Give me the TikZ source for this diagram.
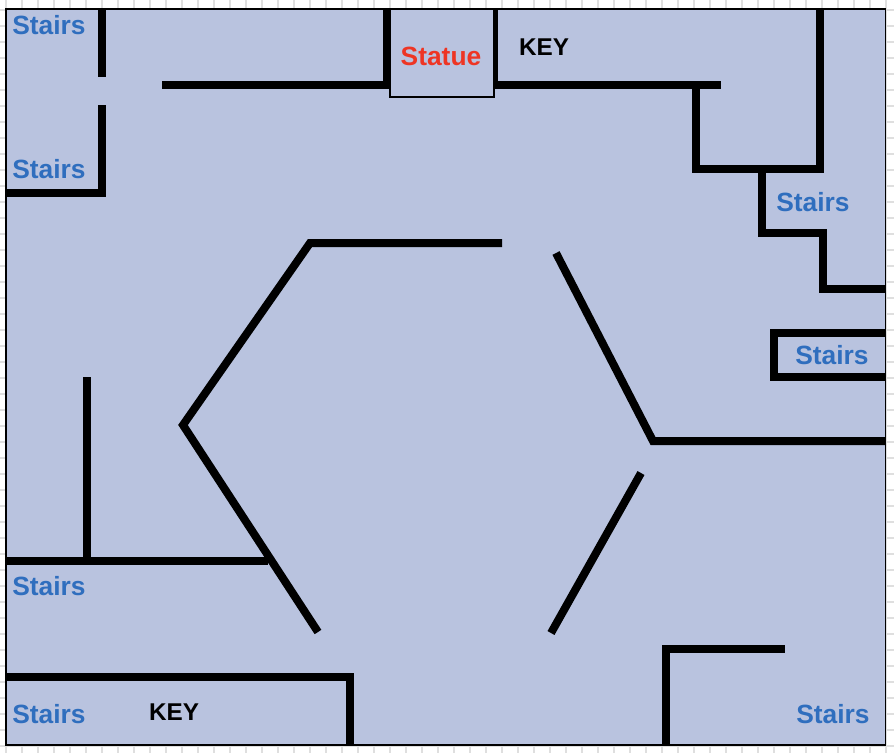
\documentclass[tikz,border=0pt]{standalone}
\usepackage{fontspec}
\setmainfont{Liberation Sans}
\definecolor{floorblue}{HTML}{B9C3DF}
\definecolor{stairblue}{HTML}{2F6EBE}
\definecolor{statuered}{HTML}{EE3524}
\tikzset{
    wall/.style={black, line width=0.08cm},
    gridline/.style={gray!25, line width=0.015cm},
    stairs/.style={text=stairblue, font=\fontsize{7.5}{9}\selectfont\bfseries, inner sep=0pt},
    keylabel/.style={text=black, font=\fontsize{6.9}{8}\selectfont\bfseries, inner sep=0pt},
    statue/.style={text=statuered, font=\fontsize{7.5}{9}\selectfont\bfseries, inner sep=0pt}
}

\begin{document}
\begin{tikzpicture}[x=0.01cm, y=-0.01cm]
    \useasboundingbox (0, 0) rectangle (894, 753);
    \fill[white] (0, 0) rectangle (894, 753);
    % sheet grid round the map
    \foreach \gx in {6, 22, ..., 894} {
        \draw[gridline] (\gx, 0) -- (\gx, 753);
    }
    \foreach \gy in {10, 26, ..., 753} {
        \draw[gridline] (0, \gy) -- (894, \gy);
    }
    \filldraw[draw=black, fill=floorblue, line width=0.015cm] (6, 9) rectangle (885.5, 745);

    % top left
    \draw[wall] (102, 9) -- (102, 77);
    \draw[wall] (102, 105) -- (102, 193) -- (6, 193);
    \draw[wall] (162, 85) -- (387, 85) -- (387, 9);

    % statue room
    \filldraw[draw=black, fill=floorblue, line width=0.015cm] (390, 9) rectangle (494, 97);
    \draw[black, line width=0.05cm] (495, 9) -- (495, 85);

    % top right
    \draw[wall] (495, 85) -- (721, 85);
    \draw[wall] (696, 85) -- (696, 169) -- (820, 169) -- (820, 9);
    \draw[wall] (762, 169) -- (762, 233) -- (823, 233) -- (823, 289) -- (885, 289);
    \draw[wall] (885, 333) -- (774, 333) -- (774, 377) -- (885, 377);

    % centre room
    \draw[wall] (502, 243) -- (310, 243) -- (183, 425) -- (318, 632);
    \draw[wall] (556, 253) -- (653, 441) -- (885, 441);
    \draw[wall] (641, 473) -- (551, 633);

    % lower left
    \draw[wall] (87, 377) -- (87, 561);
    \draw[wall] (6, 561) -- (268, 561);
    \draw[wall] (6, 677) -- (350, 677) -- (350, 746);

    % lower right
    \draw[wall] (666, 745) -- (666, 649) -- (785, 649);

    \node[stairs] (stairsa) at (49, 25) {Stairs};
    \node[stairs] (stairsb) at (49, 169) {Stairs};
    \node[stairs] (stairsc) at (813, 202) {Stairs};
    \node[stairs] (stairsd) at (832, 355) {Stairs};
    \node[stairs] (stairse) at (49, 586) {Stairs};
    \node[stairs] (stairsf) at (49, 714) {Stairs};
    \node[stairs] (stairsg) at (833, 714) {Stairs};
    \node[statue] (statuelabel) at (441, 56) {Statue};
    \node[keylabel] (keya) at (544, 47) {KEY};
    \node[keylabel] (keyb) at (174, 712) {KEY};
\end{tikzpicture}
\end{document}
